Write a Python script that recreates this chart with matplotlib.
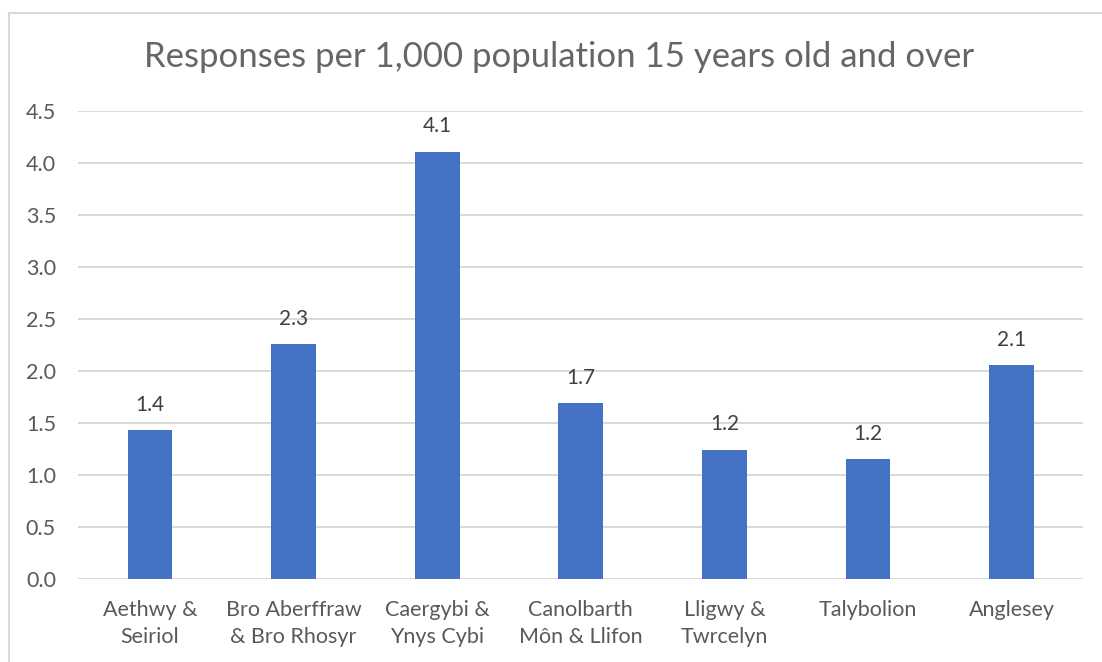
import matplotlib

matplotlib.use("Agg")
import matplotlib.pyplot as plt
from matplotlib.lines import Line2D

categories = [
    "Aethwy &\nSeiriol",
    "Bro Aberffraw\n& Bro Rhosyr",
    "Caergybi &\nYnys Cybi",
    "Canolbarth\nMôn & Llifon",
    "Lligwy &\nTwrcelyn",
    "Talybolion",
    "Anglesey",
]
values = [1.43, 2.26, 4.11, 1.69, 1.245, 1.155, 2.055]
y_ticks = [0.0, 0.5, 1.0, 1.5, 2.0, 2.5, 3.0, 3.5, 4.0, 4.5]
title = "Responses per 1,000 population 15 years old and over"

bar_color = "#4472C4"
grid_color = "#D9D9D9"
tick_color = "#595959"
label_color = "#404040"

plt.rcParams["font.family"] = ["Lato", "DejaVu Sans"]

W, H = 1102, 662
fig = plt.figure(figsize=(W / 100, H / 100), dpi=100, facecolor="white")
ax = fig.add_axes([78.2 / W, 1 - 579 / H, 1005.2 / W, 468 / H])

x = list(range(len(categories)))
bars = ax.bar(x, values, width=0.313, color=bar_color, zorder=3)
for rect, value in zip(bars, values):
    ax.annotate(
        f"{value:.1f}",
        (rect.get_x() + rect.get_width() / 2, value),
        xytext=(0, 11),
        textcoords="offset points",
        ha="center",
        va="bottom",
        fontsize=15,
        color=label_color,
    )

ax.set_xlim(-0.5, len(categories) - 0.5)
ax.set_ylim(0, 4.5)
ax.set_yticks(y_ticks, labels=[f"{t:.1f}" for t in y_ticks])
ax.set_xticks(x, labels=categories)
ax.grid(axis="y", color=grid_color, linewidth=1.4, zorder=0)
for spine in ax.spines.values():
    spine.set_visible(False)
ax.tick_params(axis="y", length=0, pad=16, labelsize=15.5, labelcolor=tick_color)
ax.tick_params(axis="x", length=0, pad=15, labelsize=15.5, labelcolor=tick_color)
for lbl in ax.get_xticklabels():
    lbl.set_linespacing(1.45)

fig.text(559.5 / W, 1 - 57 / H, title, ha="center", va="center",
         fontsize=25, color="#666666")

# chart frame
fig.add_artist(Line2D([8.5 / W, 8.5 / W], [1 - 13 / H, 0], color=grid_color, linewidth=1.5))
fig.add_artist(Line2D([8.5 / W, 1], [1 - 13 / H, 1 - 13 / H], color=grid_color, linewidth=1.5))

fig.savefig("out.png", dpi=100, facecolor="white")
